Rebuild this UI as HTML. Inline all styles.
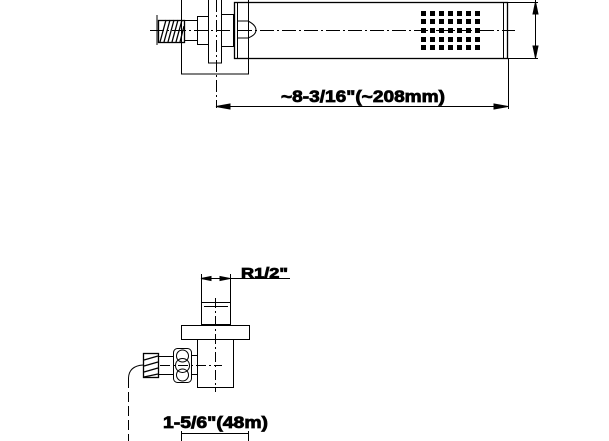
<!DOCTYPE html>
<html><head><style>body{margin:0;background:#fff}svg{display:block}</style></head><body>
<svg width="609" height="441" viewBox="0 0 609 441" xmlns="http://www.w3.org/2000/svg" fill="none" stroke="#000" stroke-width="1">
<!-- top view -->
<rect x="181.5" y="-2" width="67" height="76"/>
<rect x="208.5" y="-2" width="13" height="65" fill="#fff"/>
<rect x="197.5" y="16.5" width="11" height="28"/>
<rect x="221.5" y="14.5" width="12" height="32"/>
<rect x="184.5" y="20.5" width="13" height="20"/>
<g stroke-width="1.3">
<rect x="158.5" y="20.5" width="26" height="22"/>
<path d="M160 42 L166 20 M164 42 L170 20 M168 42 L174 20 M172 42 L178 20 M176 42 L182 20 M180 42 L184 26"/>
</g>
<line x1="157" y1="15" x2="157" y2="45"/>
<rect x="234.5" y="2.5" width="273" height="56" stroke-width="1.3"/>
<line x1="237.5" y1="2" x2="237.5" y2="58"/>
<line x1="503.5" y1="2" x2="503.5" y2="58"/>
<path d="M237 21 L248 21 Q256 25 256 30 Q256 35 248 38 L237 38"/>
<line x1="150" y1="30.5" x2="515" y2="30.5" stroke-dasharray="14,3,2,3"/>
<line x1="216.5" y1="0" x2="216.5" y2="108" stroke-dasharray="12,3,2,3"/>
<g fill="#000" stroke="none">
<rect x="421" y="11" width="5" height="5"/><rect x="430" y="11" width="5" height="5"/><rect x="439" y="11" width="5" height="5"/><rect x="448" y="11" width="5" height="5"/><rect x="457" y="11" width="5" height="5"/><rect x="466" y="11" width="5" height="5"/><rect x="475" y="11" width="5" height="5"/>
<rect x="421" y="19" width="5" height="5"/><rect x="430" y="19" width="5" height="5"/><rect x="439" y="19" width="5" height="5"/><rect x="448" y="19" width="5" height="5"/><rect x="457" y="19" width="5" height="5"/><rect x="466" y="19" width="5" height="5"/><rect x="475" y="19" width="5" height="5"/>
<rect x="421" y="28" width="5" height="5"/><rect x="430" y="28" width="5" height="5"/><rect x="439" y="28" width="5" height="5"/><rect x="448" y="28" width="5" height="5"/><rect x="457" y="28" width="5" height="5"/><rect x="466" y="28" width="5" height="5"/><rect x="475" y="28" width="5" height="5"/>
<rect x="421" y="37" width="5" height="5"/><rect x="430" y="37" width="5" height="5"/><rect x="439" y="37" width="5" height="5"/><rect x="448" y="37" width="5" height="5"/><rect x="457" y="37" width="5" height="5"/><rect x="466" y="37" width="5" height="5"/><rect x="475" y="37" width="5" height="5"/>
<rect x="421" y="45" width="5" height="5"/><rect x="430" y="45" width="5" height="5"/><rect x="439" y="45" width="5" height="5"/><rect x="448" y="45" width="5" height="5"/><rect x="457" y="45" width="5" height="5"/><rect x="466" y="45" width="5" height="5"/><rect x="475" y="45" width="5" height="5"/>
</g>
<!-- right vertical dim -->
<line x1="507" y1="2.5" x2="538" y2="2.5"/>
<line x1="507" y1="58.5" x2="538" y2="58.5"/>
<line x1="535.5" y1="0" x2="535.5" y2="58"/>
<path d="M535.5 58 L533 46 L538 46 Z" fill="#000"/>
<path d="M535.5 2 L533 14 L538 14 Z" fill="#000"/>
<!-- bottom dim -->
<line x1="508.5" y1="58" x2="508.5" y2="109"/>
<line x1="216" y1="106.5" x2="508" y2="106.5"/>
<path d="M216 106.5 L230 104 L230 109 Z" fill="#000"/>
<path d="M508 106.5 L494 104 L494 109 Z" fill="#000"/>
<g font-family="Liberation Sans, sans-serif" font-weight="bold" fill="#000" stroke="#000" stroke-width="0.8">
<text x="281" y="102" font-size="17" textLength="164" lengthAdjust="spacingAndGlyphs">~8-3/16"(~208mm)</text>
<text x="241" y="278" font-size="15" textLength="47" lengthAdjust="spacingAndGlyphs">R1/2"</text>
<text x="163" y="428" font-size="17" textLength="105" lengthAdjust="spacingAndGlyphs">1-5/6"(48m)</text>
</g>
<!-- bottom view -->
<line x1="201.5" y1="274" x2="201.5" y2="303"/>
<line x1="230.5" y1="274" x2="230.5" y2="303"/>
<line x1="201" y1="278.5" x2="290" y2="278.5"/>
<path d="M201 278.5 L211 276.5 L211 280.5 Z M230 278.5 L220 276.5 L220 280.5 Z" fill="#000"/>
<rect x="201.5" y="302.5" width="29" height="22"/>
<line x1="204" y1="306.5" x2="228" y2="306.5"/>
<rect x="181.5" y="325.5" width="68" height="14"/>
<rect x="197.5" y="339.5" width="36" height="48"/>
<rect x="191.5" y="355.5" width="6" height="19"/>
<rect x="173.5" y="348.5" width="18" height="34" rx="4"/>
<circle cx="182.5" cy="356" r="6"/><circle cx="182.5" cy="365.5" r="7"/><circle cx="182.5" cy="375" r="6"/>
<rect x="158.5" y="356.5" width="15" height="18"/>
<g stroke-width="1.3">
<rect x="143.5" y="353.5" width="15" height="24"/>
<path d="M144 360 L158 356 M144 366 L158 362 M144 372 L158 368 M144 377 L158 374"/>
</g>
<line x1="215.5" y1="298" x2="215.5" y2="392" stroke-dasharray="10,3,2,3"/>
<line x1="160" y1="365.5" x2="222" y2="365.5" stroke-dasharray="10,3,2,3"/>
<path d="M143 365 Q129 366 128.5 378" />
<line x1="128.5" y1="378" x2="128.5" y2="441" stroke-dasharray="10,4"/>
<line x1="181" y1="433.5" x2="249" y2="433.5"/>
<line x1="181.5" y1="431" x2="181.5" y2="441"/>
<line x1="248.5" y1="431" x2="248.5" y2="441"/>
</svg>
</body></html>
